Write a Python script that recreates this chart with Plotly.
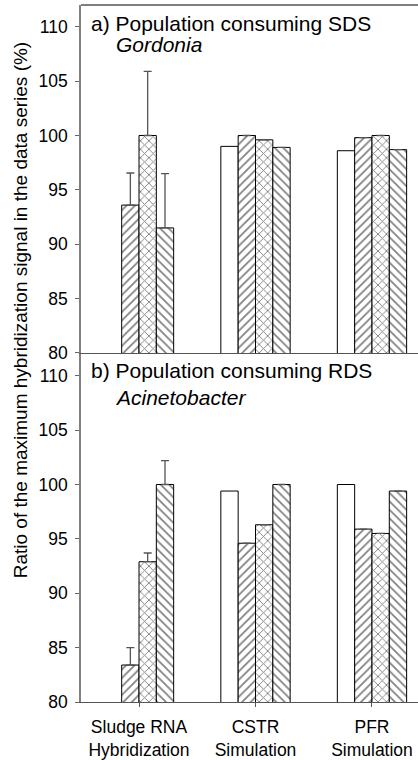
import plotly.graph_objects as go
from plotly.subplots import make_subplots

categories = ["Sludge RNA<br>Hybridization", "CSTR<br>Simulation", "PFR<br>Simulation"]
y_ticks = [80, 85, 90, 95, 100, 105, 110]

# Panel a) Population consuming SDS - Gordonia
a_s1 = [None, 99.0, 98.6]
a_s2 = [93.6, 100.0, 99.8]
a_s3 = [100.0, 99.6, 100.0]
a_s4 = [91.5, 98.9, 98.7]
a_err2 = [2.95, None, None]
a_err3 = [5.9, None, None]
a_err4 = [5.0, None, None]

# Panel b) Population consuming RDS - Acinetobacter
b_s1 = [None, 99.4, 100.0]
b_s2 = [83.4, 94.6, 95.9]
b_s3 = [92.9, 96.3, 95.5]
b_s4 = [100.0, 100.0, 99.4]
b_err2 = [1.6, None, None]
b_err3 = [0.8, None, None]
b_err4 = [2.2, None, None]

FONT = "Liberation Sans, Arial, sans-serif"
patterns = ["", "/", "x", "\\"]

fig = make_subplots(rows=2, cols=1, shared_xaxes=True, vertical_spacing=0.0015)


def add_panel(series, errs, row):
    for i, (vals, shape) in enumerate(zip(series, patterns)):
        err = errs[i]
        kw = {}
        if err is not None:
            kw["error_y"] = dict(type="data", symmetric=False, array=err,
                                 arrayminus=[0 if e is not None else None for e in err],
                                 color="#555555", thickness=1.3, width=4)
        fig.add_trace(go.Bar(
            x=categories, y=vals, showlegend=False,
            marker=dict(color="white", line=dict(color="black", width=1),
                        pattern=dict(shape=shape, fgcolor="black", bgcolor="white",
                                     size=6, solidity=0.28)),
            **kw), row=row, col=1)


add_panel([a_s1, a_s2, a_s3, a_s4], [None, a_err2, a_err3, a_err4], 1)
add_panel([b_s1, b_s2, b_s3, b_s4], [None, b_err2, b_err3, b_err4], 2)

yax = dict(range=[80, 112], tickvals=y_ticks, ticks="outside", ticklen=4,
           tickcolor="#666666", showline=True, linecolor="#808080", linewidth=1.5,
           showgrid=False, zeroline=False, automargin=False, ticklabelstandoff=4,
           tickfont=dict(family=FONT, size=17.5, color="black"))
fig.update_yaxes(**yax)

fig.update_xaxes(range=[-0.498, 2.395], showline=True, linecolor="#555555", linewidth=1.3,
                 showgrid=False, zeroline=False, automargin=False,
                 tickfont=dict(family=FONT, size=17.5, color="black"))
fig.update_xaxes(ticks="", row=1, col=1)
fig.update_xaxes(ticks="outside", ticklen=4, tickcolor="#555555", ticklabelstandoff=5,
                 row=2, col=1)

fig.update_layout(
    width=418, height=760,
    margin=dict(l=81, r=0, t=5, b=58, autoexpand=False),
    barmode="group", bargap=0.405, bargroupgap=0,
    plot_bgcolor="white", paper_bgcolor="white",
    font=dict(family=FONT, color="black"),
    shapes=[dict(type="line", xref="paper", yref="paper", x0=0, x1=1, y0=1, y1=1,
                 line=dict(color="black", width=1.2))],
    annotations=[
        dict(text="a) Population consuming SDS", xref="paper", yref="paper",
             x=0.0237, y=0.9737, xanchor="left", yanchor="middle", showarrow=False,
             font=dict(family=FONT, size=21, color="black")),
        dict(text="<i>Gordonia</i>", xref="paper", yref="paper",
             x=0.098, y=0.943, xanchor="left", yanchor="middle", showarrow=False,
             font=dict(family=FONT, size=21, color="black")),
        dict(text="b) Population consuming RDS", xref="paper", yref="paper",
             x=0.0237, y=0.4759, xanchor="left", yanchor="middle", showarrow=False,
             font=dict(family=FONT, size=21, color="black")),
        dict(text="<i>Acinetobacter</i>", xref="paper", yref="paper",
             x=0.095, y=0.4366, xanchor="left", yanchor="middle", showarrow=False,
             font=dict(family=FONT, size=21, color="black")),
        dict(text="Ratio of the maximum hybridization signal in the data series (%)",
             xref="paper", yref="paper", x=(20 - 81) / 337, y=0.562,
             xanchor="center", yanchor="middle", textangle=-90, showarrow=False,
             font=dict(family=FONT, size=19, color="black")),
    ],
)

fig.write_html("out.html", config={"displayModeBar": False},
               post_script="document.body.style.margin='0';document.body.style.overflow='hidden';")
